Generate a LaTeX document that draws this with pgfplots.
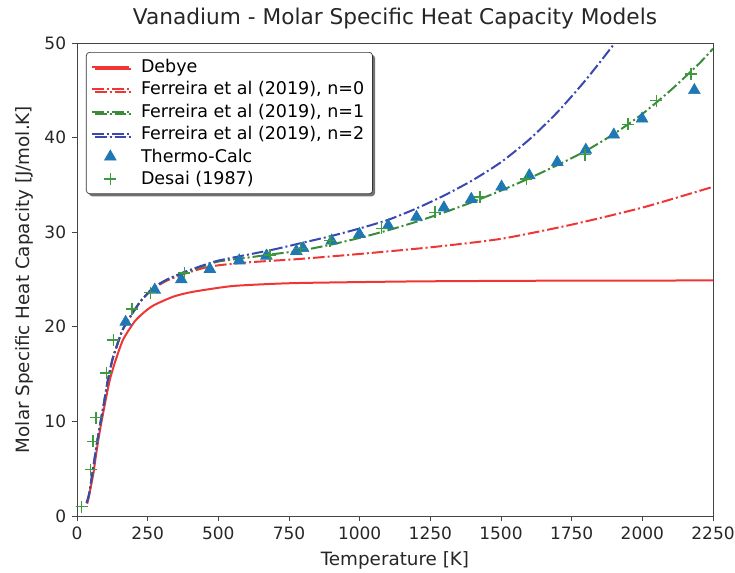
\documentclass[border=0pt]{standalone}
\usepackage{fontspec}
\setmainfont{DejaVu Sans}
\usepackage{pgfplots}
\pgfplotsset{compat=1.18}
\usetikzlibrary{shadows}
\definecolor{cdeb}{HTML}{F03535}
\definecolor{cgrn}{HTML}{3A8C3A}
\definecolor{cblu}{HTML}{3A48B0}
\definecolor{ctri}{HTML}{1F77B4}
\definecolor{cplus}{HTML}{3D9A3D}
\definecolor{cframe}{HTML}{444444}
\begin{document}
\begin{tikzpicture}
\begin{axis}[
  scale only axis,
  width=381.6pt, height=283.8pt,
  xmin=0, xmax=2250, ymin=0, ymax=50,
  xtick={0,250,...,2250}, ytick={0,10,...,50},
  tick align=outside, tick pos=left,
  major tick length=3pt,
  axis line style={cframe},
  every tick/.style={cframe},
  /pgf/number format/.cd, 1000 sep={}, assume math mode=true,
  /pgfplots/.cd,
  ticklabel style={font=\fontsize{10.2}{12}\selectfont, text=black!85},
  title={Vanadium - Molar Specific Heat Capacity Models},
  title style={font=\fontsize{13}{15}\selectfont, text=black!85, yshift=-1pt},
  xlabel={Temperature [K]},
  ylabel={Molar Specific Heat Capacity [J/mol.K]},
  label style={font=\fontsize{11}{13}\selectfont, text=black!85},
  legend style={at={(rel axis cs:0,1)}, anchor=north west, xshift=5.4pt, yshift=-5.4pt,
    rounded corners=2pt, draw=black!80, fill=white,
    drop shadow={shadow xshift=1.5pt, shadow yshift=-1.5pt, fill=black!55, opacity=1},
    font=\fontsize{10.5}{12.5}\selectfont, row sep=0pt, column sep=5pt,
    inner xsep=3pt, inner ysep=2pt},
  legend cell align=left,
  legend image code/.code={\draw[mark repeat=2,mark phase=2,#1] plot coordinates {(0pt,0pt) (10.8pt,0pt) (21.6pt,0pt)};},
  dashdot/.style={dash pattern=on 7pt off 1.8pt on 1.2pt off 1.8pt},
]
\coordinate (o) at (rel axis cs:0,0);
\coordinate (t) at (rel axis cs:1,1);
% Debye
\addplot[cdeb, line width=1.2pt, smooth, tension=0.4] coordinates {
(36,1.3) (41,1.9) (51,3.4) (59,4.7) (68,6.6) (82,9.2) (103,12.5) (117,14.5) (137,16.5)
(164,18.7) (205,20.6) (240,21.6) (273,22.3) (342,23.2) (410,23.7) (547,24.3) (700,24.55)
(820,24.65) (1200,24.8) (1640,24.87) (2250,24.9)};
\addlegendentry{Debye}
% n=0
\addplot[cdeb, line width=1.2pt, dashdot, smooth, tension=0.4] coordinates {
(34,1.4) (42,2.2) (55,4.6) (70,7.6) (85,10.2) (93,11.5) (107,14.0) (125,16.5) (140,17.9)
(160,19.6) (187,21.0) (225,22.7) (269,24.0) (319,24.9) (380,25.6) (446,26.2) (500,26.5)
(600,26.8) (700,27.0) (800,27.2) (1000,27.7) (1250,28.4) (1500,29.3) (1750,30.8)
(2000,32.6) (2250,34.8)};
\addlegendentry{Ferreira et al (2019), n=0}
% n=1
\addplot[cgrn, line width=1.2pt, dashdot, smooth, tension=0.4] coordinates {
(34,1.4) (42,2.2) (55,4.6) (70,7.6) (85,10.2) (93,11.5) (107,14.0) (125,16.5) (140,17.9)
(160,19.6) (187,21.0) (225,22.7) (269,24.1) (319,25.0) (380,25.7) (446,26.4) (500,26.9)
(600,27.3) (700,27.7) (800,28.1) (900,28.7) (1000,29.4) (1100,30.2) (1200,31.1)
(1300,32.1) (1400,33.2) (1500,34.4) (1600,35.7) (1700,37.1) (1800,38.6) (1900,40.4)
(2000,42.5) (2100,45.0) (2200,47.8) (2250,49.4)};
\addlegendentry{Ferreira et al (2019), n=1}
% n=2
\addplot[cblu, line width=1.2pt, dashdot, smooth, tension=0.4] coordinates {
(34,1.4) (42,2.2) (55,4.6) (70,7.6) (85,10.2) (93,11.5) (107,14.0) (125,16.5) (140,17.9)
(160,19.6) (187,21.0) (225,22.7) (269,24.1) (319,25.0) (380,25.8) (446,26.5) (500,27.0)
(600,27.6) (700,28.2) (800,28.9) (900,29.6) (1000,30.4) (1100,31.3) (1200,32.5)
(1300,33.9) (1400,35.5) (1500,37.4) (1600,39.8) (1700,42.7) (1800,46.1) (1900,49.9)
(1950,52.0)};
\addlegendentry{Ferreira et al (2019), n=2}
% Thermo-Calc
\addplot[only marks, mark=triangle*, mark size=4pt, color=ctri, mark options={fill=ctri, draw=ctri}] coordinates {
(172,20.5) (275,23.9) (369,25.0) (470,26.1) (574,27.0) (670,27.5) (776,28.0) (800,28.3)
(901,29.1) (999,29.8) (1101,30.7) (1201,31.6) (1298,32.6) (1395,33.5) (1502,34.8)
(1600,36.0) (1699,37.4) (1800,38.7) (1899,40.3) (1999,42.0) (2184,45.0)};
\addlegendentry{Thermo-Calc}
% Desai
\addplot[only marks, mark=+, mark size=3.6pt, color=cplus, mark options={line width=0.9pt}] coordinates {
(16,1.0) (48,4.9) (57,7.9) (68,10.4) (104,15.1) (129,18.6) (194,21.9) (260,23.6)
(380,25.7) (683,27.6) (790,28.3) (895,29.1) (1078,30.4) (1266,32.1) (1425,33.7)
(1590,35.6) (1797,38.2) (1950,41.4) (2050,43.9) (2172,46.7)};
\addlegendentry{Desai (1987)}
\end{axis}
\pgfresetboundingbox
\path ([xshift=-46.2pt, yshift=-33.6pt]o) rectangle ([xshift=13.2pt, yshift=25.8pt]t);
\end{tikzpicture}
\end{document}
